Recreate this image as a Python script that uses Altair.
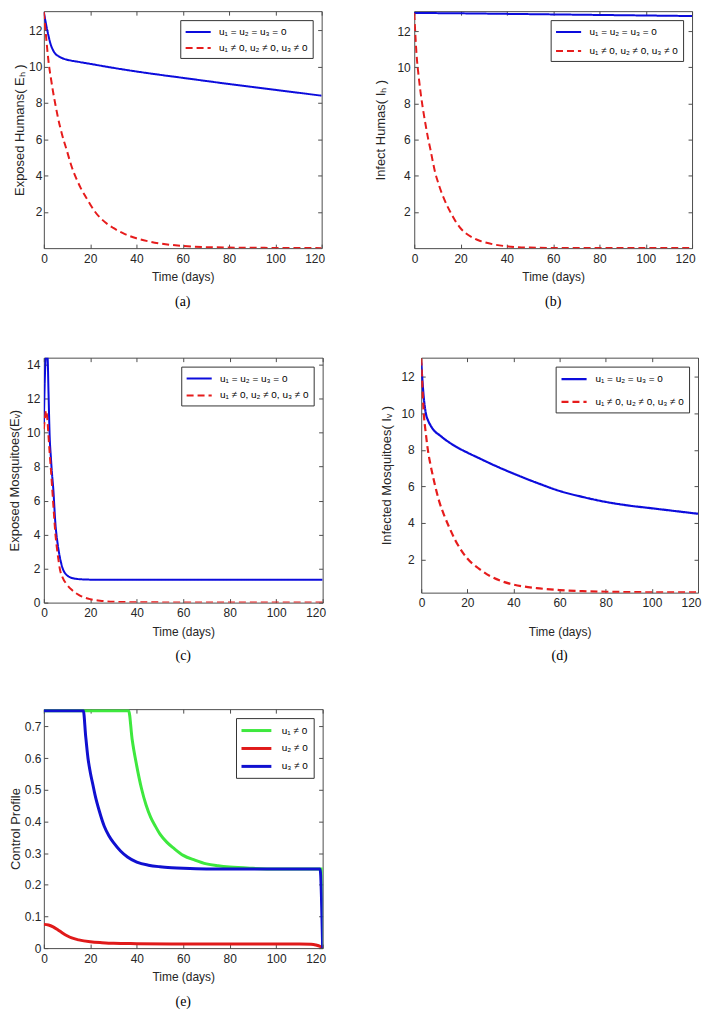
import altair as alt
import pandas as pd

FONT = "Liberation Sans"
SERIF = "Liberation Serif"

# ---------------- labels ----------------
LEG_OFF = "u₁ = u₂ = u₃ = 0"
LEG_ON = "u₁ ≠ 0, u₂ ≠ 0, u₃ ≠ 0"
CONTROL_LABELS = ["u₁ ≠ 0", "u₂ ≠ 0", "u₃ ≠ 0"]

X_TICKS = [0, 20, 40, 60, 80, 100, 120]
Y_TICKS_2_12 = [2, 4, 6, 8, 10, 12]
Y_TICKS_0_14 = [0, 2, 4, 6, 8, 10, 12, 14]
Y_TICKS_CTRL = [0, 0.1, 0.2, 0.3, 0.4, 0.5, 0.6, 0.7]

# ---------------- (a) Exposed humans ----------------
A_T_BLUE = [0, 1, 2, 3, 4, 5, 6, 8, 10, 15, 20, 30, 40, 50, 60, 70, 80, 90, 100, 110, 120]
A_BLUE = [13.0, 12.3, 11.7, 11.2, 10.9, 10.7, 10.6, 10.46, 10.38, 10.26, 10.15, 9.93, 9.73,
          9.55, 9.38, 9.21, 9.04, 8.88, 8.72, 8.56, 8.4]
A_T_RED = [0, 1, 2, 3, 4, 5, 6, 8, 10, 12, 14, 16, 18, 20, 22, 25, 30, 35, 40, 45, 50, 60,
           70, 80, 90, 100, 110, 120]
A_RED = [13.0, 11.6, 10.3, 9.4, 8.6, 7.9, 7.25, 6.2, 5.35, 4.5, 3.85, 3.3, 2.85, 2.42, 2.03,
         1.6, 1.12, 0.78, 0.55, 0.39, 0.27, 0.13, 0.07, 0.04, 0.03, 0.02, 0.015, 0.01]

# ---------------- (b) Infected humans ----------------
B_T_BLUE = [0, 20, 40, 60, 80, 100, 120]
B_BLUE = [13.0, 12.98, 12.95, 12.92, 12.89, 12.86, 12.83]
B_T_RED = [0, 1, 2, 3, 4, 5, 6, 7, 8, 9, 10, 12, 14, 16, 18, 20, 22, 25, 28, 30, 35, 40, 45,
           50, 60, 80, 100, 120]
B_RED = [13.0, 10.7, 9.4, 8.35, 7.5, 6.75, 6.05, 5.45, 4.8, 4.2, 3.75, 3.0, 2.4, 1.9, 1.45,
         1.1, 0.85, 0.6, 0.42, 0.34, 0.19, 0.1, 0.05, 0.03, 0.01, 0.005, 0.003, 0.002]

# ---------------- (c) Exposed mosquitoes (blue spike leaves the top of the frame) ----------------
C_T_BLUE = [0, 0.5, 0.9, 1.6, 2, 2.5, 3, 3.5, 4, 5, 6, 7, 8, 9, 10, 12, 15, 20, 30, 40, 60, 80,
            100, 120]
C_BLUE = [10.5, 13.5, 14.4, 14.4, 12.4, 9.8, 8.6, 7.6, 6.8, 4.6, 3.4, 2.6, 2.05, 1.75, 1.6,
          1.45, 1.38, 1.35, 1.34, 1.34, 1.34, 1.34, 1.34, 1.34]
C_T_RED = [0, 0.5, 1, 1.5, 2, 2.5, 3, 3.5, 4, 5, 6, 7, 8, 10, 12, 15, 20, 25, 30, 40, 60, 80,
           120]
C_RED = [10.2, 10.9, 11.3, 10.8, 9.8, 8.8, 7.9, 6.9, 5.9, 4.0, 2.8, 1.9, 1.5, 1.05, 0.75,
         0.45, 0.2, 0.1, 0.05, 0.02, 0.01, 0.005, 0.003]

# ---------------- (d) Infected mosquitoes ----------------
D_T_BLUE = [0, 1, 2, 3, 4, 5, 6, 8, 10, 12, 15, 20, 25, 30, 40, 50, 60, 70, 80, 90, 100, 110,
            120]
D_BLUE = [12.8, 11.0, 10.0, 9.6, 9.35, 9.15, 9.0, 8.8, 8.6, 8.42, 8.18, 7.85, 7.55, 7.25, 6.7,
          6.2, 5.75, 5.42, 5.15, 4.95, 4.8, 4.65, 4.5]
D_T_RED = [0, 1, 2, 3, 4, 5, 6, 8, 10, 12, 15, 20, 25, 30, 35, 40, 50, 60, 70, 80, 90, 100, 120]
D_RED = [13.0, 10.2, 8.9, 7.9, 7.2, 6.6, 6.05, 5.1, 4.4, 3.8, 3.0, 2.05, 1.5, 1.08, 0.8, 0.62,
         0.43, 0.32, 0.26, 0.23, 0.21, 0.2, 0.19]

# ---------------- (e) Control profile ----------------
E_T_U1 = [0, 36.5, 38, 40, 42, 44, 46, 48, 50, 53, 56, 60, 65, 70, 75, 80, 90, 100, 119.8, 120]
E_U1 = [0.75, 0.75, 0.66, 0.575, 0.505, 0.452, 0.413, 0.385, 0.36, 0.334, 0.315, 0.293, 0.278,
        0.266, 0.26, 0.256, 0.252, 0.25, 0.25, 0.0]
E_T_U2 = [0, 2, 4, 6, 8, 10, 12, 15, 20, 25, 30, 40, 60, 80, 100, 110, 115, 117, 119, 120]
E_U2 = [0.075, 0.073, 0.067, 0.058, 0.048, 0.039, 0.032, 0.026, 0.02, 0.017, 0.015, 0.014,
        0.013, 0.013, 0.013, 0.013, 0.012, 0.01, 0.005, 0.0]
E_T_U3 = [0, 17, 18, 19, 20, 21, 22, 24, 26, 28, 30, 33, 36, 40, 45, 50, 55, 60, 70, 118.9, 120]
E_U3 = [0.75, 0.75, 0.67, 0.6, 0.555, 0.52, 0.485, 0.43, 0.385, 0.355, 0.333, 0.307, 0.288,
        0.272, 0.262, 0.257, 0.254, 0.252, 0.25, 0.25, 0.0]

BLUE = "#0c0cdc"
RED = "#e61c1c"
GREEN = "#3ee83e"
FRAME = "#4d4d4d"
TXT = "#262626"


def sdf(ts, vs, name):
    return pd.DataFrame({"t": ts, "v": vs, "s": name})


def panel(series, labels, colors, dashes, sw, ydomain, yticks, ytitle, yfmt,
          width, height, caption, ylp, ytp, xtp, row_pad, leg_path, sym_off, lab_off):
    xs = alt.Scale(domain=[0, 120], nice=False, zero=False)
    ys = alt.Scale(domain=ydomain, nice=False, zero=False)
    cscale = alt.Scale(domain=labels, range=colors)
    leg = alt.Legend(title=None, orient="top-right", offset=9, padding=5,
                     strokeColor="#333333", fillColor="white", cornerRadius=0,
                     symbolType=leg_path, symbolSize=144, symbolStrokeWidth=sw,
                     symbolOffset=sym_off, labelFont=FONT, labelFontSize=10,
                     labelColor="black", rowPadding=row_pad, labelOffset=lab_off,
                     labelLimit=300)
    xaxis = alt.Axis(values=X_TICKS, title="Time (days)", offset=-4, tickSize=4,
                     labelPadding=5, titlePadding=xtp, titleFontSize=12,
                     labelFlush=True, labelFlushOffset=3)
    yaxis = alt.Axis(values=yticks, title=ytitle, offset=-4, tickSize=4, format=yfmt,
                     labelPadding=ylp, titlePadding=ytp, titleFontSize=13, labelFlush=False)
    layers = []
    for i, df in enumerate(series):
        enc = dict(
            x=alt.X("t:Q", scale=xs, axis=xaxis if i == 0 else None),
            y=alt.Y("v:Q", scale=ys, axis=yaxis if i == 0 else None),
            color=alt.Color("s:N", scale=cscale, legend=leg),
        )
        if dashes is not None:
            enc["strokeDash"] = alt.StrokeDash(
                "s:N", scale=alt.Scale(domain=labels, range=dashes), legend=leg)
        layers.append(
            alt.Chart(df).mark_line(clip=True, interpolate="monotone", strokeWidth=sw)
            .encode(**enc)
        )
    mirror = alt.Chart(series[0]).mark_line(strokeOpacity=0).encode(
        x=alt.X("t:Q", scale=xs, axis=alt.Axis(orient="top", values=X_TICKS, labels=False,
                                               title=None, offset=-4, tickSize=4)),
        y=alt.Y("v:Q", scale=ys, axis=alt.Axis(orient="right", values=yticks, labels=False,
                                               title=None, offset=-4, tickSize=4)),
    )
    return (
        alt.layer(*layers, mirror)
        .resolve_axis(x="independent", y="independent")
        .properties(
            width=width, height=height,
            title=alt.TitleParams(text=caption, orient="bottom", font=SERIF, fontSize=14,
                                  fontWeight="normal", color="black", offset=12),
        )
    )


DASHES = [[1, 0], [7, 4]]
PATH_AD = "M-2.1,0H2.1"
PATH_E = "M-2.5,0H2.5"

pa = panel([sdf(A_T_BLUE, A_BLUE, LEG_OFF), sdf(A_T_RED, A_RED, LEG_ON)],
           [LEG_OFF, LEG_ON], [BLUE, RED], DASHES, 2, [0.01, 13.05], Y_TICKS_2_12,
           "Exposed Humans( Eₕ )", "d", 279, 238, "(a)", 2, 2, 8, 4, PATH_AD, 6, 14)
pb = panel([sdf(B_T_BLUE, B_BLUE, LEG_OFF), sdf(B_T_RED, B_RED, LEG_ON)],
           [LEG_OFF, LEG_ON], [BLUE, RED], DASHES, 2, [0.0, 13.1], Y_TICKS_2_12,
           "Infect Humas( Iₕ )", "d", 279, 238, "(b)", 4, 10, 8, 7, PATH_AD, 6, 14)
pc = panel([sdf(C_T_BLUE, C_BLUE, LEG_OFF), sdf(C_T_RED, C_RED, LEG_ON)],
           [LEG_OFF, LEG_ON], [BLUE, RED], DASHES, 2, [0.0, 14.4], Y_TICKS_0_14,
           "Exposed Mosquitoes(Eᵥ)", "d", 280, 246, "(c)", 4, 5, 8, 5, PATH_AD, 6, 14)
pd_ = panel([sdf(D_T_BLUE, D_BLUE, LEG_OFF), sdf(D_T_RED, D_RED, LEG_ON)],
            [LEG_OFF, LEG_ON], [BLUE, RED], DASHES, 2.2, [0.18, 13.05], Y_TICKS_2_12,
            "Infected Mosquitoes( Iᵥ )", "d", 278, 236, "(d)", 7, 7, 18, 10, PATH_AD, 6, 14)
pe = panel([sdf(E_T_U1, E_U1, CONTROL_LABELS[0]), sdf(E_T_U2, E_U2, CONTROL_LABELS[1]),
            sdf(E_T_U3, E_U3, CONTROL_LABELS[2])],
           CONTROL_LABELS, [GREEN, "#e01a1a", "#1010d0"], None, 3, [0.0, 0.755],
           Y_TICKS_CTRL, "Control Profile", "~g", 280, 240, "(e)", 3, 2, 8, 4, PATH_E, 8, 18)

row1 = alt.hconcat(pa, pb, spacing=48).resolve_scale(color="independent", strokeDash="independent")
row2 = alt.hconcat(pc, pd_, spacing=54).resolve_scale(color="independent", strokeDash="independent")
upper = alt.vconcat(row1, row2, spacing=47).resolve_scale(color="independent",
                                                         strokeDash="independent")

chart = (
    alt.vconcat(upper, pe, spacing=44)
    .resolve_scale(color="independent", strokeDash="independent")
    .properties(padding={"left": 0, "top": 0, "right": 0, "bottom": 0})
    .configure_view(stroke=FRAME, strokeWidth=1)
    .configure_axis(grid=False, domain=False, labelFont=FONT, labelFontSize=12,
                    labelColor=TXT, titleFont=FONT, titleFontWeight="normal",
                    titleColor=TXT, tickColor=FRAME, minExtent=0, maxExtent=200)
)

chart.save("out.html", embed_options={"renderer": "svg", "actions": False})
